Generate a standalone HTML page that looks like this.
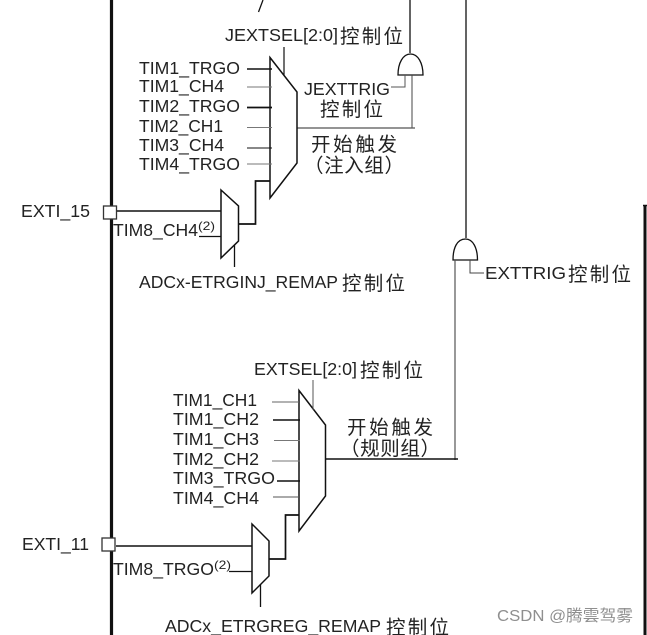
<!DOCTYPE html>
<html>
<head>
<meta charset="utf-8">
<style>
html,body{margin:0;padding:0;background:#fff;width:647px;height:635px;overflow:hidden}
svg{display:block;filter:blur(0.35px)}
text{font-family:"Liberation Sans","Noto Sans CJK SC",sans-serif;fill:#222;font-size:17.5px}
.c{font-size:19.500px}
</style>
</head>
<body>
<svg width="647" height="635" viewBox="0 0 647 635" xmlns="http://www.w3.org/2000/svg">
<rect width="647" height="635" fill="#fff"/>
<g fill="none" stroke="#111" stroke-width="1">
<!-- bus and right edge -->
<path d="M111.5 0V635" stroke-width="3.2"/>
<path d="M645 205V635" stroke-width="3"/>
<path d="M643 205.500H647" stroke-width="1.500"/>
<!-- top fragments -->
<path d="M258.500 12L263 0" stroke-width="1.300"/>
<path d="M410 0V53" stroke-width="1.300"/>
<path d="M466 0V238" stroke-width="1.300"/>
<!-- upper AND -->
<path d="M398 75C398 63 403 54 410.500 54C418 54 423 63 423 75Z" stroke-width="1.300"/>
<path d="M412 75V128" stroke="#444"/>
<path d="M297 128H415" stroke="#555" stroke-width="1.200"/>
<path d="M405 75V87H391" stroke="#555"/>
<!-- upper mux -->
<path d="M270 57.500L297 92V163L270 198Z" stroke-width="1.500"/>
<path d="M284 47V75" stroke-width="1.200"/>
<path d="M247 69H272" stroke-width="1.500"/>
<path d="M247 87H272" stroke="#777"/>
<path d="M247 107.500H272" stroke-width="1.700"/>
<path d="M247 127.500H272" stroke="#777"/>
<path d="M247 148H272" stroke-width="1"/>
<path d="M247 164H272" stroke="#777"/>
<path d="M270 181H255.500V224H238" stroke-width="1.700"/>
<!-- upper small mux -->
<path d="M221 190L238.500 206V241L221 258Z" stroke-width="1.500"/>
<path d="M234.500 245V267" stroke-width="1.300"/>
<path d="M117 211H221" stroke-width="1.500"/>
<path d="M199 236.500H221" stroke-width="1.300"/>
<rect x="103.500" y="206" width="13" height="13" fill="#fff" stroke="#333" stroke-width="1.300"/>
<!-- lower AND -->
<path d="M453 260C453 248 457 239 465.500 239C473 239 477.500 248 477.500 260Z" stroke-width="1.300"/>
<path d="M455 260V460" stroke="#555" stroke-width="1.200"/>
<path d="M470 260V273H484" stroke="#444"/>
<!-- lower mux -->
<path d="M299 390.500L325.500 425V496L299 531Z" stroke-width="1.500"/>
<path d="M313 380V410" stroke="#555" stroke-width="1"/>
<path d="M325 459H458" stroke-width="1.600"/>
<path d="M272 402H299" stroke="#666"/>
<path d="M273 420H300" stroke-width="1.500"/>
<path d="M274 440.500H300" stroke="#777"/>
<path d="M272 461H300" stroke="#777"/>
<path d="M277 481H300" stroke-width="1.500"/>
<path d="M273 497H299" stroke="#555"/>
<path d="M299 515H285.500V559H269" stroke-width="1.700"/>
<!-- lower small mux -->
<path d="M252 524L269 541V576L252 593Z" stroke-width="1.500"/>
<path d="M260.500 584V607" stroke-width="1.300"/>
<path d="M116 546H252" stroke-width="1.500"/>
<path d="M229 571.500H252" stroke-width="1.300"/>
<rect x="102" y="538" width="13" height="13" fill="#fff" stroke="#333" stroke-width="1.300"/>
</g>
<!-- upper labels -->
<text x="225" y="41" textLength="113" lengthAdjust="spacingAndGlyphs">JEXTSEL[2:0]</text>
<text class="c" x="340" y="43" textLength="63" lengthAdjust="spacing">控制位</text>
<text x="139" y="74" textLength="101" lengthAdjust="spacingAndGlyphs">TIM1_TRGO</text>
<text x="139" y="92" textLength="85" lengthAdjust="spacingAndGlyphs">TIM1_CH4</text>
<text x="139" y="112" textLength="101" lengthAdjust="spacingAndGlyphs">TIM2_TRGO</text>
<text x="139" y="132" textLength="84" lengthAdjust="spacingAndGlyphs">TIM2_CH1</text>
<text x="139" y="151" textLength="85" lengthAdjust="spacingAndGlyphs">TIM3_CH4</text>
<text x="139" y="170" textLength="101" lengthAdjust="spacingAndGlyphs">TIM4_TRGO</text>
<text x="304" y="95" textLength="86" lengthAdjust="spacingAndGlyphs">JEXTTRIG</text>
<text class="c" x="320" y="116" textLength="63" lengthAdjust="spacing">控制位</text>
<text class="c" x="311" y="151" textLength="86" lengthAdjust="spacing">开始触发</text>
<text class="c" x="304" y="172" textLength="100" lengthAdjust="spacing">（注入组）</text>
<text x="21" y="217" textLength="69" lengthAdjust="spacingAndGlyphs">EXTI_15</text>
<text x="113" y="236" textLength="85" lengthAdjust="spacingAndGlyphs">TIM8_CH4</text>
<text x="198" y="230" style="font-size:12px" textLength="17" lengthAdjust="spacingAndGlyphs">(2)</text>
<text x="139" y="288" textLength="199" lengthAdjust="spacingAndGlyphs">ADCx-ETRGINJ_REMAP</text>
<text class="c" x="342" y="290" textLength="63" lengthAdjust="spacing">控制位</text>
<text x="485" y="279" textLength="81" lengthAdjust="spacingAndGlyphs">EXTTRIG</text>
<text class="c" x="568" y="281" textLength="63" lengthAdjust="spacing">控制位</text>
<!-- lower labels -->
<text x="254" y="375" textLength="103" lengthAdjust="spacingAndGlyphs">EXTSEL[2:0]</text>
<text class="c" x="360" y="377" textLength="63" lengthAdjust="spacing">控制位</text>
<text x="173" y="406" textLength="84" lengthAdjust="spacingAndGlyphs">TIM1_CH1</text>
<text x="173" y="425" textLength="86" lengthAdjust="spacingAndGlyphs">TIM1_CH2</text>
<text x="173" y="445" textLength="86" lengthAdjust="spacingAndGlyphs">TIM1_CH3</text>
<text x="173" y="465" textLength="86" lengthAdjust="spacingAndGlyphs">TIM2_CH2</text>
<text x="173" y="484" textLength="102" lengthAdjust="spacingAndGlyphs">TIM3_TRGO</text>
<text x="173" y="504" textLength="86" lengthAdjust="spacingAndGlyphs">TIM4_CH4</text>
<text class="c" x="347" y="434" textLength="86" lengthAdjust="spacing">开始触发</text>
<text class="c" x="340" y="455" textLength="100" lengthAdjust="spacing">（规则组）</text>
<text x="22" y="550" textLength="67" lengthAdjust="spacingAndGlyphs">EXTI_11</text>
<text x="113" y="575" textLength="101" lengthAdjust="spacingAndGlyphs">TIM8_TRGO</text>
<text x="214" y="569" style="font-size:12px" textLength="17" lengthAdjust="spacingAndGlyphs">(2)</text>
<text x="165" y="632" textLength="216" lengthAdjust="spacingAndGlyphs">ADCx_ETRGREG_REMAP</text>
<text class="c" x="386" y="634" textLength="63" lengthAdjust="spacing">控制位</text>
<!-- watermark -->
<text x="497" y="621" style="font-size:16px;fill:#8f8f8f" textLength="136" lengthAdjust="spacingAndGlyphs">CSDN @腾雲驾雾</text>
</svg>
</body>
</html>
